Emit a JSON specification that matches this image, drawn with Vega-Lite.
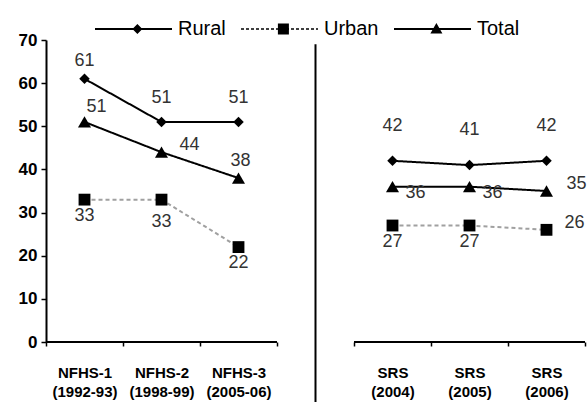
{
  "$schema": "https://vega.github.io/schema/vega-lite/v6.json",
  "width": 539,
  "height": 302,
  "autosize": {"type": "none"},
  "padding": {"left": 46, "top": 40, "right": 2, "bottom": 60},
  "background": "white",
  "config": {"view": {"stroke": null}, "font": "Liberation Sans", "axis": {"grid": false}},
  "datasets": {
    "main": [
      {"survey": "NFHS-1|(1992-93)", "group": "NFHS", "series": "Rural", "value": 61},
      {"survey": "NFHS-1|(1992-93)", "group": "NFHS", "series": "Urban", "value": 33},
      {"survey": "NFHS-1|(1992-93)", "group": "NFHS", "series": "Total", "value": 51},
      {"survey": "NFHS-2|(1998-99)", "group": "NFHS", "series": "Rural", "value": 51},
      {"survey": "NFHS-2|(1998-99)", "group": "NFHS", "series": "Urban", "value": 33},
      {"survey": "NFHS-2|(1998-99)", "group": "NFHS", "series": "Total", "value": 44},
      {"survey": "NFHS-3|(2005-06)", "group": "NFHS", "series": "Rural", "value": 51},
      {"survey": "NFHS-3|(2005-06)", "group": "NFHS", "series": "Urban", "value": 22},
      {"survey": "NFHS-3|(2005-06)", "group": "NFHS", "series": "Total", "value": 38},
      {"survey": "SRS|(2004)", "group": "SRS", "series": "Rural", "value": 42},
      {"survey": "SRS|(2004)", "group": "SRS", "series": "Urban", "value": 27},
      {"survey": "SRS|(2004)", "group": "SRS", "series": "Total", "value": 36},
      {"survey": "SRS|(2005)", "group": "SRS", "series": "Rural", "value": 41},
      {"survey": "SRS|(2005)", "group": "SRS", "series": "Urban", "value": 27},
      {"survey": "SRS|(2005)", "group": "SRS", "series": "Total", "value": 36},
      {"survey": "SRS|(2006)", "group": "SRS", "series": "Rural", "value": 42},
      {"survey": "SRS|(2006)", "group": "SRS", "series": "Urban", "value": 26},
      {"survey": "SRS|(2006)", "group": "SRS", "series": "Total", "value": 35}
    ]
  },
  "data": {"name": "main"},
  "encoding": {
    "x": {
      "field": "survey",
      "type": "ordinal",
      "scale": {
        "type": "band",
        "domain": ["NFHS-1|(1992-93)", "NFHS-2|(1998-99)", "NFHS-3|(2005-06)", "gap", "SRS|(2004)", "SRS|(2005)", "SRS|(2006)"],
        "paddingInner": 0,
        "paddingOuter": 0
      },
      "axis": {
        "title": null,
        "domain": false,
        "ticks": true,
        "tickBand": "extent",
        "tickSize": 4,
        "tickColor": "black",
        "tickWidth": 1.5,
        "labelExpr": "isValid(datum.value) && datum.value != 'gap' ? split(datum.value, '|') : ''",
        "labelFontWeight": "bold",
        "labelFontSize": 15,
        "labelColor": "black",
        "labelPadding": 19,
        "labelLineHeight": 19,
        "labelOverlap": false,
        "labelAngle": 0,
        "labelBound": false,
        "labelFlush": false
      }
    },
    "y": {
      "field": "value",
      "type": "quantitative",
      "scale": {"domain": [0, 70], "nice": false},
      "axis": {
        "title": null,
        "values": [0, 10, 20, 30, 40, 50, 60, 70],
        "domainColor": "black",
        "domainWidth": 2,
        "tickColor": "black",
        "tickSize": 5,
        "tickWidth": 1.5,
        "labelFontSize": 17,
        "labelFontWeight": "bold",
        "labelColor": "black",
        "labelPadding": 4
      }
    }
  },
  "layer": [
    {
      "transform": [{"filter": "datum.series == 'Rural'"}],
      "mark": {"type": "bar", "fill": "black", "stroke": "black", "strokeWidth": 2},
      "encoding": {"y": {"datum": 0}, "y2": {"datum": 0}}
    },
    {
      "transform": [{"filter": "datum.series == 'Rural' && datum.survey == 'NFHS-1|(1992-93)'"}],
      "mark": {"type": "rule", "color": "black", "strokeWidth": 2},
      "encoding": {
        "x": {"datum": "gap", "type": "ordinal"},
        "y": {"datum": -14},
        "y2": {"datum": 69}
      }
    },
    {
      "mark": {"type": "line", "strokeWidth": 2},
      "encoding": {
        "color": {"field": "series", "type": "nominal", "scale": {"domain": ["Rural", "Urban", "Total"], "range": ["black", "#a0a0a0", "black"]}, "legend": null},
        "strokeDash": {"field": "series", "type": "nominal", "scale": {"domain": ["Rural", "Urban", "Total"], "range": [[1, 0], [4, 3], [1, 0]]}, "legend": null},
        "detail": {"field": "group"}
      }
    },
    {
      "mark": {"type": "point", "filled": true, "color": "black", "opacity": 1, "strokeWidth": 0},
      "encoding": {
        "shape": {"field": "series", "type": "nominal", "scale": {"domain": ["Rural", "Urban", "Total"], "range": ["diamond", "square", "triangle-up"]}, "legend": null},
        "size": {"field": "series", "type": "ordinal", "scale": {"domain": ["Rural", "Urban", "Total"], "range": [110, 170, 170]}, "legend": null}
      }
    },
    {
      "mark": {"type": "point", "filled": true, "color": "black", "opacity": 0, "strokeWidth": 0},
      "encoding": {
        "shape": {
          "field": "series",
          "type": "nominal",
          "scale": {
            "domain": ["Rural", "Urban", "Total"],
            "range": [
              "M-1,-0.25H18.25V0.25H-1Z M8.35,0L9.6,-1.25L10.85,0L9.6,1.25Z",
              "M-1,-0.2H-0.25V0.2H-1Z M0.25,-0.2H1V0.2H0.25Z M1.5,-0.2H2.25V0.2H1.5Z M2.75,-0.2H3.5V0.2H2.75Z M4,-0.2H4.75V0.2H4Z M5.25,-0.2H6V0.2H5.25Z M6.5,-0.2H7.25V0.2H6.5Z M7.75,-0.2H8.5V0.2H7.75Z M10.25,-0.2H11V0.2H10.25Z M11.5,-0.2H12.25V0.2H11.5Z M12.75,-0.2H13.5V0.2H12.75Z M14,-0.2H14.75V0.2H14Z M15.25,-0.2H16V0.2H15.25Z M16.5,-0.2H17.25V0.2H16.5Z M17.75,-0.2H18.25V0.2H17.75Z M8.225,-1.375H10.975V1.375H8.225Z",
              "M-1,-0.25H18.25V0.25H-1Z M9.6,-1.5L11.1,1.1L8.1,1.1Z"
            ]
          },
          "legend": {
            "title": null,
            "orient": "none",
            "legendX": 43,
            "legendY": -21,
            "direction": "horizontal",
            "symbolSize": 64,
            "symbolFillColor": "black",
            "symbolStrokeWidth": 0,
            "symbolOpacity": 1,
            "labelFontSize": 20,
            "labelColor": "black",
            "labelOffset": 69,
            "columnPadding": 9
          }
        }
      }
    },
    {
      "transform": [{"filter": "datum.series == 'Rural' && datum.survey == 'NFHS-1|(1992-93)'"}],
      "mark": {"type": "text", "fontSize": 18, "color": "#333", "dy": -18},
      "encoding": {"text": {"field": "value"}}
    },
    {
      "transform": [{"filter": "datum.series == 'Rural' && (datum.survey == 'NFHS-2|(1998-99)' || datum.survey == 'NFHS-3|(2005-06)')"}],
      "mark": {"type": "text", "fontSize": 18, "color": "#333", "dy": -24},
      "encoding": {"text": {"field": "value"}}
    },
    {
      "transform": [{"filter": "datum.series == 'Rural' && datum.group == 'SRS'"}],
      "mark": {"type": "text", "fontSize": 18, "color": "#333", "dy": -35},
      "encoding": {"text": {"field": "value"}}
    },
    {
      "transform": [{"filter": "datum.series == 'Total' && datum.survey == 'NFHS-1|(1992-93)'"}],
      "mark": {"type": "text", "fontSize": 18, "color": "#333", "dx": 12, "dy": -15},
      "encoding": {"text": {"field": "value"}}
    },
    {
      "transform": [{"filter": "datum.series == 'Total' && datum.survey == 'NFHS-2|(1998-99)'"}],
      "mark": {"type": "text", "fontSize": 18, "color": "#333", "dx": 28, "dy": -7},
      "encoding": {"text": {"field": "value"}}
    },
    {
      "transform": [{"filter": "datum.series == 'Total' && datum.survey == 'NFHS-3|(2005-06)'"}],
      "mark": {"type": "text", "fontSize": 18, "color": "#333", "dx": 2, "dy": -17},
      "encoding": {"text": {"field": "value"}}
    },
    {
      "transform": [{"filter": "datum.series == 'Total' && (datum.survey == 'SRS|(2004)' || datum.survey == 'SRS|(2005)')"}],
      "mark": {"type": "text", "fontSize": 18, "color": "#333", "dx": 23, "dy": 6},
      "encoding": {"text": {"field": "value"}}
    },
    {
      "transform": [{"filter": "datum.series == 'Total' && datum.survey == 'SRS|(2006)'"}],
      "mark": {"type": "text", "fontSize": 18, "color": "#333", "dx": 30, "dy": -7},
      "encoding": {"text": {"field": "value"}}
    },
    {
      "transform": [{"filter": "datum.series == 'Urban' && datum.survey != 'NFHS-2|(1998-99)' && datum.survey != 'SRS|(2006)'"}],
      "mark": {"type": "text", "fontSize": 18, "color": "#333", "dy": 16},
      "encoding": {"text": {"field": "value"}}
    },
    {
      "transform": [{"filter": "datum.series == 'Urban' && datum.survey == 'NFHS-2|(1998-99)'"}],
      "mark": {"type": "text", "fontSize": 18, "color": "#333", "dy": 22},
      "encoding": {"text": {"field": "value"}}
    },
    {
      "transform": [{"filter": "datum.series == 'Urban' && datum.survey == 'SRS|(2006)'"}],
      "mark": {"type": "text", "fontSize": 18, "color": "#333", "dx": 28, "dy": -7},
      "encoding": {"text": {"field": "value"}}
    }
  ],
  "resolve": {"scale": {"shape": "independent", "size": "independent"}, "legend": {"shape": "independent"}}
}
